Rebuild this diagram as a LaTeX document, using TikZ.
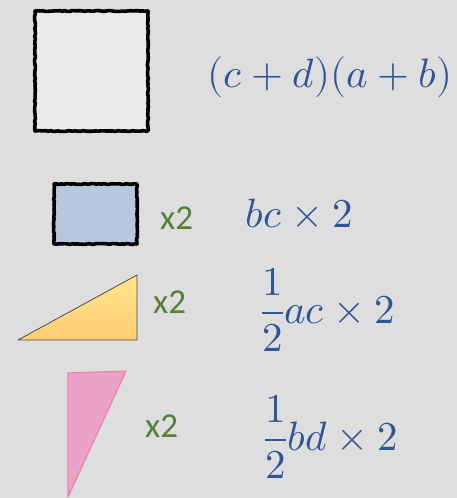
\documentclass[tikz,border=0pt]{standalone}
\usepackage{fontspec}
\usepackage{unicode-math}
\newfontfamily\labelfont{Carlito}
\usetikzlibrary{decorations.pathmorphing}
\definecolor{bgcol}{HTML}{DEDEDE}
\definecolor{sqcol}{HTML}{EAEAEA}
\definecolor{rectcol}{HTML}{B8C7DE}
\definecolor{mathcol}{HTML}{2F5597}
\definecolor{timescol}{HTML}{548235}
\definecolor{pinkfill}{HTML}{EBA3C5}
\definecolor{pinkline}{HTML}{F07FB2}
\begin{document}
\begin{tikzpicture}[x=1pt,y=-1pt,line join=round,line cap=round,
	sketch/.style={draw=black,line width=3.6pt,decorate,decoration={random steps,segment length=2.5pt,amplitude=0.5pt}},
	times/.style={anchor=base west,inner sep=0pt,text=timescol,font=\fontsize{35pt}{40pt}\selectfont\labelfont},
	area/.style={anchor=base west,inner sep=0pt,text=mathcol,font=\fontsize{41pt}{48pt}\selectfont}]
	\fill [bgcol] (0,0) rectangle (457,498);
	% the shapes
	\fill [sqcol] (35,11) rectangle (148,131);
	\draw [sketch] (35,11)--(148,11)--(148,131)--(35,131)--cycle;
	\fill [rectcol] (54,184) rectangle (137,244);
	\draw [sketch] (54,184)--(137,184)--(137,244)--(54,244)--cycle;
	\path (18,340) coordinate (A) (137,340) coordinate (B) (137,275) coordinate (C);
	\shade [top color=orange!45!yellow!45,bottom color=orange!70!yellow!55,draw=black!70,line width=0.8pt] (A)--(B)--(C)--cycle;
	\path (68,373) coordinate (D) (126,371) coordinate (E) (68,497) coordinate (F);
	\filldraw [fill=pinkfill,draw=pinkline,line width=1.2pt] (D)--(E)--(F)--cycle;
	% the counts
	\foreach \x/\y/\n in {160/229/1,153/313/2,145/437/3}{
		\node [times] (x\n) at (\x,\y) {x2};
	}
	% the areas
	\node [area] (total) at (207,87) {$(c+d)(a+b)$};
	\node [area] (blue) at (245,227) {$bc\times2$};
	\node [area] (orange) at (261,323) {$\displaystyle\frac{1}{2}ac\times2$};
	\node [area] (pink) at (264,450) {$\displaystyle\frac{1}{2}bd\times2$};
\end{tikzpicture}
\end{document}
